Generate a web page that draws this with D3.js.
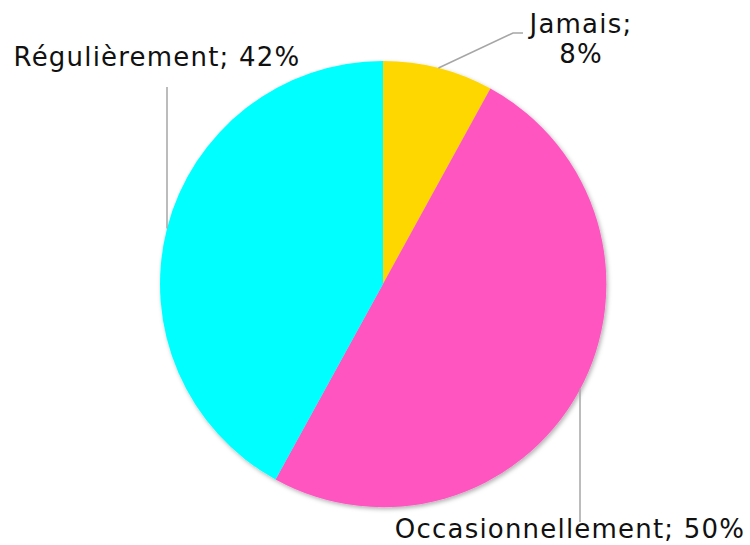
<!DOCTYPE html>
<html>
<head>
<meta charset="utf-8">
<script src="https://cdn.jsdelivr.net/npm/d3@7"></script>
<style>
	body { margin: 0; background: #fff; }
	text { font-family: "DejaVu Sans", sans-serif; fill: #111; letter-spacing: 1.2px; }
</style>
</head>
<body>
<div id="chart"></div>
<script>
var categories = ["Jamais", "Occasionnellement", "Régulièrement"];
var values = [8, 50, 42];
var colors = ["#FFD700", "#FF54C0", "#00FFFF"];

var width = 750;
var height = 545;
var cx = 383;
var cy = 284;
var radius = 223;

var svg = d3.select("#chart").append("svg")
	.attr("width", width)
	.attr("height", height);

// soft shadow under the pie
var filter = svg.append("defs").append("filter")
	.attr("id", "shadow")
	.attr("x", "-10%").attr("y", "-10%")
	.attr("width", "120%").attr("height", "120%");
filter.append("feDropShadow")
	.attr("dx", 1.5).attr("dy", 2)
	.attr("stdDeviation", 2)
	.attr("flood-color", "#000")
	.attr("flood-opacity", 0.3);

var pie = d3.pie().sort(null).value(function (d) { return d; });
var arcs = pie(values);

var arc = d3.arc().innerRadius(0).outerRadius(radius);

var g = svg.append("g").attr("transform", "translate(" + cx + "," + cy + ")");

g.append("g").attr("filter", "url(#shadow)")
	.selectAll("path")
	.data(arcs)
	.enter().append("path")
	.attr("d", arc)
	.attr("fill", function (d, i) { return colors[i]; });

// point on the rim at a given angle
function rim(a) {
	return [cx + radius * Math.sin(a), cy - radius * Math.cos(a)];
}

var line = d3.line();
var lines = svg.append("g")
	.attr("fill", "none")
	.attr("stroke", "#a6a6a6")
	.attr("stroke-width", 1.5);

// Jamais: short elbow to the upper right
var a0 = (arcs[0].startAngle + arcs[0].endAngle) / 2;
var p0 = rim(a0);
lines.append("path").attr("d", line([p0, [513, 33], [523, 33]]));

// Occasionnellement: straight down from the rim
var p1x = 580;
var a1 = Math.PI - Math.asin((p1x - cx) / radius);
var p1 = rim(a1);
lines.append("path").attr("d", line([p1, [p1x, 522]]));

// Régulièrement: straight up from the rim
var p2x = 167;
var a2 = 2 * Math.PI + Math.asin((p2x - cx) / radius);
var p2 = rim(a2);
lines.append("path").attr("d", line([p2, [p2x, 87]]));

var fs = 26;
var t0 = svg.append("text").attr("text-anchor", "middle").attr("font-size", fs);
t0.append("tspan").attr("x", 581).attr("y", 33).text(categories[0] + ";");
t0.append("tspan").attr("x", 581).attr("y", 63).text(values[0] + "%");

svg.append("text").attr("text-anchor", "middle").attr("font-size", fs)
	.attr("x", 570).attr("y", 538)
	.text(categories[1] + "; " + values[1] + "%");

svg.append("text").attr("text-anchor", "middle").attr("font-size", fs)
	.attr("x", 157).attr("y", 66)
	.text(categories[2] + "; " + values[2] + "%");
</script>
</body>
</html>
